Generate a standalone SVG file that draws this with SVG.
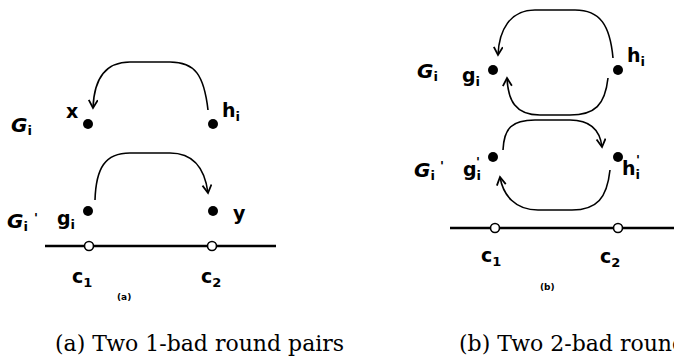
<svg xmlns="http://www.w3.org/2000/svg" width="674" height="360" viewBox="0 0 674 360">
<style>
.lbl{font-family:"DejaVu Sans",sans-serif;font-weight:bold;font-size:19px;fill:#000}
.G{font-family:"DejaVu Sans",sans-serif;font-weight:bold;font-style:italic;font-size:20px;fill:#000}
.sub{font-size:13px;font-style:normal}
.pr{font-family:"DejaVu Sans",sans-serif;font-weight:bold;font-size:13px;fill:#000}
.cap{font-family:"DejaVu Serif","Liberation Serif",serif;font-size:22px;fill:#000}
.small{font-family:"DejaVu Sans",sans-serif;font-weight:bold;font-size:9px;fill:#000}
.arc{fill:none;stroke:#000;stroke-width:1.6}
.line{stroke:#000;stroke-width:2.5}
.dot{fill:#000}
.open{fill:#fff;stroke:#000;stroke-width:1.6}
</style>
<defs>
<marker id="ah" markerWidth="12" markerHeight="12" refX="9" refY="5" orient="auto" markerUnits="userSpaceOnUse">
<path d="M1,0.5 L9,5 L1,9.5" fill="none" stroke="#000" stroke-width="1.8"/>
</marker>
</defs>
<g id="connectors">
<path class="arc" marker-end="url(#ah)" d="M208,110 C204,75 195,62 170,62 L130,62 C105,62 94,80 93,108"/>
<path class="arc" marker-end="url(#ah)" d="M95,200 C96,168 105,153 130,153 L170,153 C195,153 205,170 208,193"/>
<path class="arc" marker-end="url(#ah)" d="M613,58 C610,25 600,10 575,10 L535,10 C510,10 499,30 498,55"/>
<path class="arc" marker-end="url(#ah)" d="M608,78 C605,105 595,115 570,115 L540,115 C515,115 508,100 507,78"/>
<path class="arc" marker-end="url(#ah)" d="M503,150 C504,128 512,120 535,120 L570,120 C590,120 600,130 602,147"/>
<path class="arc" marker-end="url(#ah)" d="M610,170 C607,198 597,210 572,210 L538,210 C515,210 503,195 500,177"/>
<line class="line" x1="45" y1="246" x2="276" y2="246"/>
<line class="line" x1="450" y1="228" x2="674" y2="228"/>
</g>
<g id="a-Gi"><text class="G" x="11" y="132">G<tspan class="sub" dy="3">i</tspan></text></g>
<g id="a-Gi2"><text class="G" x="7" y="228">G<tspan class="sub" dy="3">i</tspan></text><text class="pr" x="34" y="222">'</text></g>
<g id="a-x"><circle class="dot" cx="88" cy="124" r="5"/><text class="lbl" x="66" y="118">x</text></g>
<g id="a-hi"><circle class="dot" cx="213" cy="124" r="5"/><text class="lbl" x="222" y="117">h<tspan class="sub" dy="4">i</tspan></text></g>
<g id="a-gi"><circle class="dot" cx="88" cy="211" r="5"/><text class="lbl" x="57" y="225">g<tspan class="sub" dy="4">i</tspan></text></g>
<g id="a-y"><circle class="dot" cx="213" cy="211" r="5"/><text class="lbl" x="233" y="220">y</text></g>
<g id="a-c1"><circle class="open" cx="89" cy="246" r="4.5"/><text class="lbl" x="72" y="283">c<tspan class="sub" dy="4">1</tspan></text></g>
<g id="a-c2"><circle class="open" cx="212" cy="246" r="4.5"/><text class="lbl" x="201" y="283">c<tspan class="sub" dy="4">2</tspan></text></g>
<text class="small" x="117" y="300">(a)</text>
<g id="b-Gi"><text class="G" x="417" y="78">G<tspan class="sub" dy="3">i</tspan></text></g>
<g id="b-Gi2"><text class="G" x="414" y="177">G<tspan class="sub" dy="3">i</tspan></text><text class="pr" x="440" y="170">'</text></g>
<g id="b-gi"><circle class="dot" cx="493" cy="70" r="5"/><text class="lbl" x="462" y="82">g<tspan class="sub" dy="4">i</tspan></text></g>
<g id="b-hi"><circle class="dot" cx="618" cy="70" r="5"/><text class="lbl" x="627" y="62">h<tspan class="sub" dy="4">i</tspan></text></g>
<g id="b-gi2"><circle class="dot" cx="493" cy="157" r="5"/><text class="lbl" x="463" y="176">g<tspan class="sub" dy="4">i</tspan></text><text class="pr" x="476" y="166">'</text></g>
<g id="b-hi2"><circle class="dot" cx="618" cy="157" r="5"/><text class="lbl" x="622" y="175">h<tspan class="sub" dy="4">i</tspan></text><text class="pr" x="636" y="164">'</text></g>
<g id="b-c1"><circle class="open" cx="495" cy="228" r="4.5"/><text class="lbl" x="481" y="262">c<tspan class="sub" dy="4">1</tspan></text></g>
<g id="b-c2"><circle class="open" cx="618" cy="228" r="4.5"/><text class="lbl" x="600" y="263">c<tspan class="sub" dy="4">2</tspan></text></g>
<text class="small" x="540" y="290">(b)</text>
<text class="cap" x="55" y="351">(a) Two 1-bad round pairs</text>
<text class="cap" x="459" y="351">(b) Two 2-bad round pairs</text>
</svg>
